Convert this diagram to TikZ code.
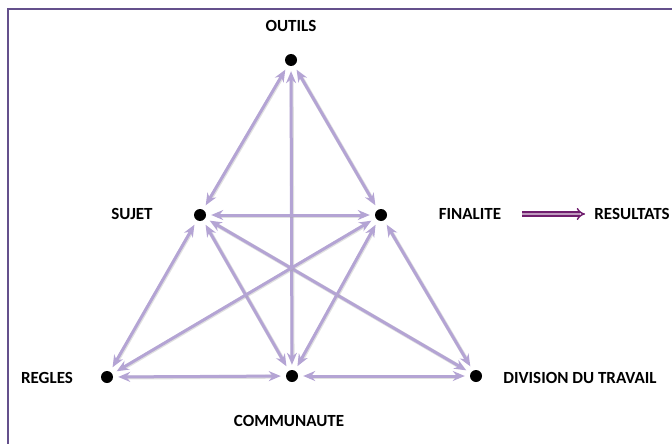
\documentclass[tikz,border=0pt]{standalone}
\usepackage{fontspec}
\setmainfont{Carlito}
\usetikzlibrary{arrows.meta,shadows}
\definecolor{framec}{RGB}{100,80,140}
\definecolor{edgec}{RGB}{180,164,212}
\definecolor{resc}{RGB}{112,30,110}
\tikzset{
  dot/.style={circle,fill=black,inner sep=0pt,minimum size=12pt},
  lab/.style={font=\bfseries\fontsize{17}{20}\selectfont,inner sep=0pt},
  link/.style={draw=edgec,line width=3pt,{Stealth[length=12pt,width=10pt]}-{Stealth[length=12pt,width=10pt]},shorten >=5pt,shorten <=5pt,
    preaction={draw=black!35,line width=4pt,opacity=0.35,transform canvas={shift={(0.6pt,-0.6pt)}},arrows=-,shorten >=14pt,shorten <=14pt}},
}
\begin{document}
\begin{tikzpicture}[x=1pt,y=-1pt]
\useasboundingbox (0,0) rectangle (672,444);
\draw[framec,line width=1.5pt] (8,444) -- (8,9) -- (672,9);
\node[dot] (o) at (291,60) {};
\node[dot] (s) at (200,215) {};
\node[dot] (f) at (381,215) {};
\node[dot] (r) at (107,377) {};
\node[dot] (c) at (292,376) {};
\node[dot] (d) at (476,376) {};
\node[lab] (lo) at (291,26) {OUTILS};
\node[lab] (ls) at (132,214) {SUJET};
\node[lab] (lf) at (470,214) {FINALITE};
\node[lab] (lres) at (632,214) {RESULTATS};
\node[lab] (lr) at (47,378) {REGLES};
\node[lab] (lc) at (289,421) {COMMUNAUTE};
\node[lab] (ld) at (580,378) {DIVISION DU TRAVAIL};
\coordinate (a1) at (522,214);
\coordinate (a2) at (585,214);
\draw[resc,double=resc!45!white,double distance=2.5pt,line width=1.5pt,-{Implies[length=6pt]}] (a1) -- (a2);
\foreach \u/\v in {o/s,o/f,o/c,s/f,s/r,s/c,s/d,f/r,f/c,f/d,r/c,c/d}
  \path[link] (\u) -- (\v);
\end{tikzpicture}
\end{document}
